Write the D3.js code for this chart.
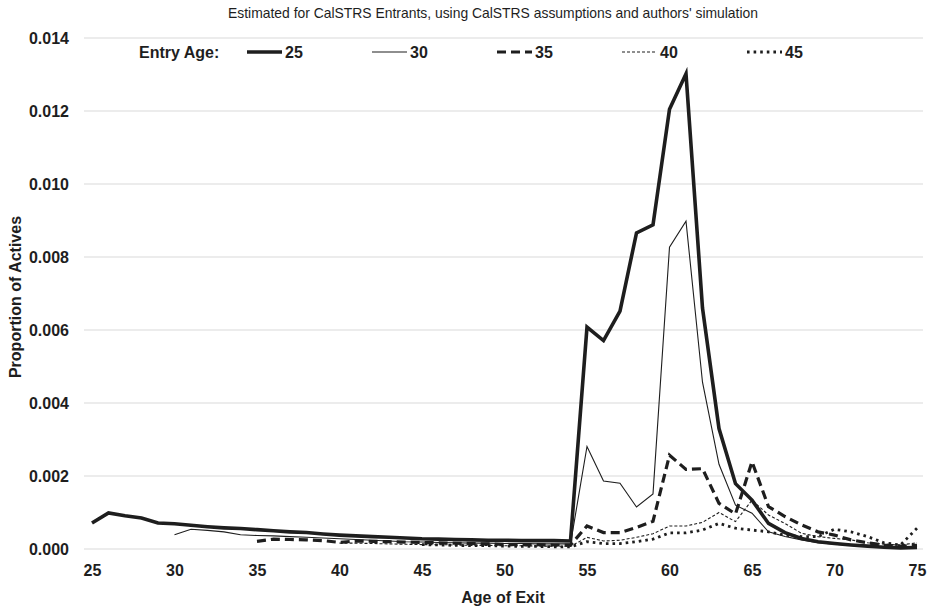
<!DOCTYPE html>
<html>
<head>
<meta charset="utf-8">
<script src="https://cdn.jsdelivr.net/npm/d3@7"></script>
<style>
  body { margin: 0; background: #fff; }
  svg { display: block; font-family: "Liberation Sans", Arial, sans-serif; }
</style>
</head>
<body>
<div id="chart"></div>
<script>
// exit ages on the x axis
var ages = [25,26,27,28,29,30,31,32,33,34,35,36,37,38,39,40,41,42,43,44,45,46,47,48,49,50,
            51,52,53,54,55,56,57,58,59,60,61,62,63,64,65,66,67,68,69,70,71,72,73,74,75];

// proportion of actives leaving, per entry age (starts at the entry age)
var entry25 = [0.00071,0.00099,0.00091,0.00085,0.00071,0.00069,0.00065,0.00061,0.00058,0.00056,
               0.00053,0.00050,0.00047,0.00045,0.00041,0.00038,0.00036,0.00034,0.00032,0.00030,
               0.00028,0.00027,0.00026,0.00025,0.00024,0.00024,0.00023,0.00023,0.00023,0.00022,
               0.00608,0.00571,0.00652,0.00866,0.00888,0.01205,0.01302,0.00660,0.00330,0.00179,
               0.00134,0.00070,0.00045,0.00029,0.00020,0.00015,0.00011,0.00008,0.00005,0.00003,0.00004];
var entry30 = [0.00039,0.00054,0.00051,0.00047,0.00039,0.00037,0.00036,0.00034,0.00032,0.00030,
               0.00028,0.00026,0.00024,0.00022,0.00020,0.00019,0.00018,0.00017,0.00016,0.00016,
               0.00015,0.00015,0.00014,0.00014,0.00014,0.00281,0.00186,0.00180,0.00115,0.00151,
               0.00827,0.00898,0.00457,0.00232,0.00120,0.00098,0.00047,0.00034,0.00025,0.00017,
               0.00013,0.00010,0.00007,0.00005,0.00003,0.00005];
var entry35 = [0.00021,0.00027,0.00026,0.00025,0.00023,0.00018,0.00022,0.00021,0.00020,0.00019,
               0.00018,0.00017,0.00016,0.00015,0.00014,0.00013,0.00012,0.00012,0.00011,0.00011,
               0.00063,0.00045,0.00045,0.00059,0.00076,0.00257,0.00218,0.00220,0.00125,0.00096,
               0.00239,0.00116,0.00089,0.00066,0.00047,0.00038,0.00025,0.00017,0.00011,0.00008,0.00010];
var entry40 = [0.00016,0.00016,0.00015,0.00014,0.00013,0.00012,0.00012,0.00011,0.00010,0.00010,
               0.00009,0.00009,0.00008,0.00008,0.00007,0.00032,0.00022,0.00024,0.00032,0.00042,
               0.00063,0.00063,0.00073,0.00100,0.00075,0.00134,0.00093,0.00070,0.00043,0.00034,
               0.00029,0.00025,0.00017,0.00013,0.00011,0.00017];
var entry45 = [0.00012,0.00011,0.00010,0.00009,0.00009,0.00008,0.00007,0.00007,0.00006,0.00006,
               0.00020,0.00015,0.00015,0.00020,0.00027,0.00044,0.00044,0.00052,0.00070,0.00057,
               0.00052,0.00047,0.00038,0.00034,0.00034,0.00054,0.00047,0.00034,0.00017,0.00011,0.00057];

var entryAges = [25, 30, 35, 40, 45];
var yTicks = [0, 0.002, 0.004, 0.006, 0.008, 0.010, 0.012, 0.014];
var xTicks = [25, 30, 35, 40, 45, 50, 55, 60, 65, 70, 75];

var width = 928, height = 607;
var ink = "#1e1e1e";

// line style for each entry age
var styles = [
  {w: 3.6, dash: null},
  {w: 1.1, dash: null},
  {w: 3.2, dash: "9,5"},
  {w: 1.1, dash: "3,2"},
  {w: 2.8, dash: "2.6,4"}
];

var seriesList = [entry25, entry30, entry35, entry40, entry45].map(function(vals, i) {
  var start = ages.indexOf(entryAges[i]);
  return vals.map(function(v, j) { return {age: ages[start + j], v: v}; });
});

var svg = d3.select("#chart").append("svg")
  .attr("width", width)
  .attr("height", height);

var x = d3.scaleLinear().domain([25, 75]).range([92, 917]);
var y = d3.scaleLinear().domain([0, 0.014]).range([549, 38]);

// gridlines
svg.append("g").selectAll("line").data(yTicks).enter().append("line")
  .attr("x1", 84).attr("x2", 923)
  .attr("y1", function(d){ return y(d); })
  .attr("y2", function(d){ return y(d); })
  .style("stroke", "#d9d9d9")
  .style("stroke-width", 1.2);

// y axis labels
var yAxis = d3.axisLeft(y).tickValues(yTicks).tickFormat(d3.format(".3f")).tickSize(0).tickPadding(0);
var gy = svg.append("g").attr("transform", "translate(69,0)").call(yAxis);
gy.select(".domain").remove();
gy.selectAll("text")
  .style("font-size", "16px").style("font-weight", "bold")
  .style("font-family", "'Liberation Sans', Arial, sans-serif")
  .style("fill", ink);

// x axis labels
var xAxis = d3.axisBottom(x).tickValues(xTicks).tickFormat(d3.format("d")).tickSize(0).tickPadding(0);
var gx = svg.append("g").attr("transform", "translate(0,565)").call(xAxis);
gx.select(".domain").remove();
gx.selectAll("text")
  .style("font-size", "16px").style("font-weight", "bold")
  .style("font-family", "'Liberation Sans', Arial, sans-serif")
  .style("fill", ink);

// lines
var line = d3.line()
  .x(function(d){ return x(d.age); })
  .y(function(d){ return y(d.v); });

// draw the small ones first so the bold lines sit on top
[4, 3, 2, 1, 0].forEach(function(i) {
  svg.append("path")
    .datum(seriesList[i])
    .attr("d", line)
    .style("fill", "none")
    .style("stroke", ink)
    .style("stroke-width", styles[i].w)
    .style("stroke-dasharray", styles[i].dash)
    .style("stroke-linejoin", "miter");
});

// title
svg.append("text")
  .attr("x", 493).attr("y", 18)
  .attr("text-anchor", "middle")
  .style("font-size", "13.9px")
  .style("fill", ink)
  .text("Estimated for CalSTRS Entrants, using CalSTRS assumptions and authors' simulation");

// legend
var legend = svg.append("g");
legend.append("text")
  .attr("x", 139).attr("y", 58)
  .style("font-size", "16px").style("font-weight", "bold").style("fill", ink)
  .text("Entry Age:");

var items = legend.selectAll("g.item").data(entryAges).enter().append("g")
  .attr("class", "item")
  .attr("transform", function(d, i){ return "translate(" + (247 + i * 125) + ",52)"; });

items.append("line")
  .attr("x1", 0).attr("x2", 35).attr("y1", 0).attr("y2", 0)
  .style("stroke", ink)
  .style("stroke-width", function(d, i){ return styles[i].w; })
  .style("stroke-dasharray", function(d, i){ return styles[i].dash; });

items.append("text")
  .attr("x", 38).attr("y", 6)
  .style("font-size", "16px").style("font-weight", "bold").style("fill", ink)
  .text(function(d){ return d; });

// axis titles
svg.append("text")
  .attr("x", 503).attr("y", 603)
  .attr("text-anchor", "middle")
  .style("font-size", "16px").style("font-weight", "bold").style("fill", ink)
  .text("Age of Exit");

svg.append("text")
  .attr("transform", "translate(21,297)rotate(-90)")
  .attr("text-anchor", "middle")
  .style("font-size", "16px").style("font-weight", "bold").style("fill", ink)
  .text("Proportion of Actives");
</script>
</body>
</html>
